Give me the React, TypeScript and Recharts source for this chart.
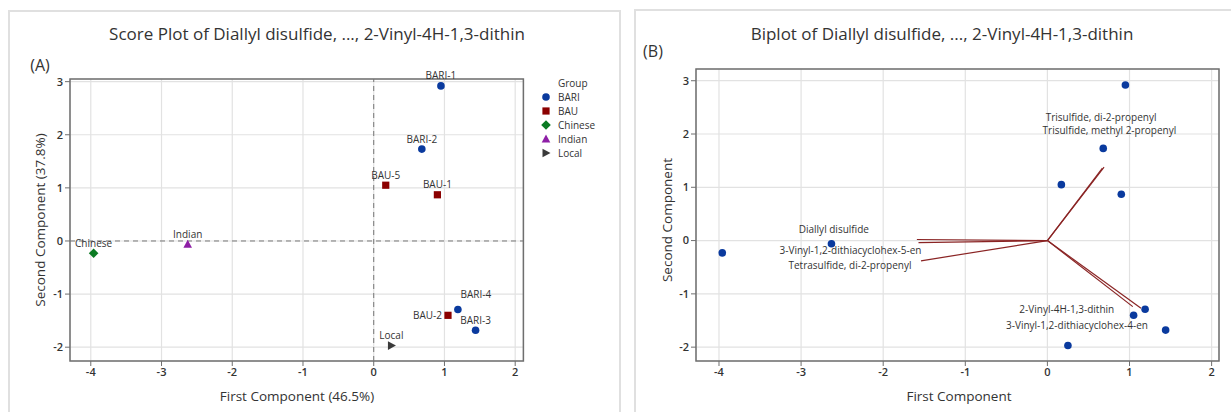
import React from "react";
import {
  ScatterChart,
  Scatter,
  XAxis,
  YAxis,
  CartesianGrid,
  ReferenceLine,
  ReferenceArea,
  Legend,
} from "recharts";

// ─── data ────────────────────────────────────────────────────────────────────
const sampleNames = ["BARI-1", "BARI-2", "BARI-3", "BARI-4", "BAU-1", "BAU-2", "BAU-5", "Chinese", "Indian", "Local"];
const sampleGroups = ["BARI", "BARI", "BARI", "BARI", "BAU", "BAU", "BAU", "Chinese", "Indian", "Local"];
const pc1Scores = [0.95, 0.68, 1.44, 1.19, 0.9, 1.05, 0.17, -3.96, -2.63, 0.25];
const pc2Scores = [2.92, 1.73, -1.68, -1.29, 0.87, -1.4, 1.05, -0.23, -0.06, -1.97];

const groups = ["BARI", "BAU", "Chinese", "Indian", "Local"];

const loadingNames = [
  "Trisulfide, di-2-propenyl",
  "Trisulfide, methyl 2-propenyl",
  "Diallyl disulfide",
  "3-Vinyl-1,2-dithiacyclohex-5-en",
  "Tetrasulfide, di-2-propenyl",
  "2-Vinyl-4H-1,3-dithin",
  "3-Vinyl-1,2-dithiacyclohex-4-en",
];
const loadingPc1 = [0.69, 0.67, -1.59, -1.57, -1.54, 1.04, 1.14];
const loadingPc2 = [1.38, 1.36, 0.02, -0.04, -0.38, -1.24, -1.27];

const xTicks = [-4, -3, -2, -1, 0, 1, 2];
const yTicks = [-2, -1, 0, 1, 2, 3];

// ─── styles ──────────────────────────────────────────────────────────────────
const FONT = '"Open Sans", "Noto Sans", sans-serif';
const TEXT = "#333333";
const GRID = "#e2e2e2";
const FRAME = "#6f6f6f";
const VECTOR = "#8a2424";

const groupStyle: Record<string, { color: string; shape: string }> = {
  BARI: { color: "#0a3a9e", shape: "circle" },
  BAU: { color: "#8b0000", shape: "square" },
  Chinese: { color: "#0a7a22", shape: "diamond" },
  Indian: { color: "#8e1fa6", shape: "triangle" },
  Local: { color: "#3a3a3a", shape: "triangleRight" },
};

// label offset (px) from the point: [dx, dy, anchor]
const scoreLabelPlace: Record<string, [number, number, string]> = {
  "BARI-4": [18, -15, "middle"],
  "BAU-2": [-6, 0, "end"],
};
const loadingLabelPlace: Record<string, [number, number]> = {
  "Trisulfide, di-2-propenyl": [-3, -50],
  "Trisulfide, methyl 2-propenyl": [7, -38],
  "Diallyl disulfide": [-83, -10],
  "3-Vinyl-1,2-dithiacyclohex-5-en": [-68, 8],
  "Tetrasulfide, di-2-propenyl": [-71, 5],
  "2-Vinyl-4H-1,3-dithin": [-66, 3],
  "3-Vinyl-1,2-dithiacyclohex-4-en": [-64, 17],
};

const scores = sampleNames.map((name, i) => ({
  name,
  group: sampleGroups[i],
  x: pc1Scores[i],
  y: pc2Scores[i],
}));
const loadings = loadingNames.map((name, i) => ({ name, x: loadingPc1[i], y: loadingPc2[i] }));

const LEFT_X: [number, number] = [-4.294, 2.116];
const LEFT_Y: [number, number] = [-2.26, 3.05];
const RIGHT_X: [number, number] = [-4.28, 2.09];
const RIGHT_Y: [number, number] = [-2.26, 3.22];

function Marker({ kind, cx, cy, color }: { kind: string; cx: number; cy: number; color: string }) {
  switch (kind) {
    case "square":
      return <rect x={cx - 3.6} y={cy - 3.6} width={7.2} height={7.2} fill={color} />;
    case "diamond":
      return <polygon points={`${cx},${cy - 4.8} ${cx + 4.8},${cy} ${cx},${cy + 4.8} ${cx - 4.8},${cy}`} fill={color} />;
    case "triangle":
      return <polygon points={`${cx},${cy - 4.5} ${cx + 4.3},${cy + 3.5} ${cx - 4.3},${cy + 3.5}`} fill={color} />;
    case "triangleRight":
      return <polygon points={`${cx + 4.5},${cy} ${cx - 3.5},${cy + 4.3} ${cx - 3.5},${cy - 4.3}`} fill={color} />;
    default:
      return <circle cx={cx} cy={cy} r={3.8} fill={color} />;
  }
}

const tickStyle = { fontSize: 11, fill: TEXT, fontWeight: 600, fontFamily: FONT };

function ScorePoint(props: any) {
  const { cx, cy, payload } = props;
  const st = groupStyle[payload.group];
  const [dx, dy, anchor] = scoreLabelPlace[payload.name] ?? [0, -10, "middle"];
  return (
    <g>
      <Marker kind={st.shape} cx={cx} cy={cy} color={st.color} />
      <text
        x={cx + dx}
        y={cy + dy}
        dy="0.35em"
        textAnchor={anchor as any}
        fontSize={10}
        fontFamily={FONT}
        fill={TEXT}
      >
        {payload.name}
      </text>
    </g>
  );
}

function LoadingLabel(props: any) {
  const { cx, cy, payload } = props;
  const [dx, dy] = loadingLabelPlace[payload.name] ?? [0, -10];
  return (
    <text x={cx + dx} y={cy + dy} dy="0.35em" textAnchor="middle" fontSize={10} fontFamily={FONT} fill={TEXT}>
      {payload.name}
    </text>
  );
}

function GroupLegend() {
  return (
    <div style={{ fontFamily: FONT, fontSize: 10, color: TEXT, lineHeight: "14px" }}>
      <div style={{ paddingLeft: 20 }}>Group</div>
      {groups.map((g) => (
        <div key={g} style={{ display: "flex", alignItems: "center" }}>
          <svg width={20} height={14}>
            <Marker kind={groupStyle[g].shape} cx={8} cy={7} color={groupStyle[g].color} />
          </svg>
          <span>{g}</span>
        </div>
      ))}
    </div>
  );
}

function Caption({ x, y, size, children, rotate }: any) {
  return (
    <div
      style={{
        position: "absolute",
        left: x,
        top: y,
        transform: `translate(-50%, -50%)${rotate ? " rotate(-90deg)" : ""}`,
        whiteSpace: "nowrap",
        fontFamily: FONT,
        fontSize: size,
        color: TEXT,
        lineHeight: 1,
      }}
    >
      {children}
    </div>
  );
}

export default function App() {
  return (
    <div
      style={{
        position: "absolute",
        left: 0,
        top: 0,
        width: 1231,
        height: 412,
        background: "#fff",
        overflow: "hidden",
      }}
    >
      {/* panel frames */}
      <div style={{ position: "absolute", left: 8, top: 10, width: 609, height: 420, border: "2px solid #e0e0e0" }} />
      <div style={{ position: "absolute", left: 634, top: 9, width: 620, height: 420, border: "2px solid #e0e0e0" }} />

      {/* (A) score plot */}
      <div style={{ position: "absolute", left: 0, top: 0 }}>
        <ScatterChart width={620} height={412} margin={{ top: 79, right: 96.6, bottom: 21, left: 30 }}>
          <CartesianGrid stroke={GRID} strokeWidth={1.2} />
          <XAxis
            type="number"
            dataKey="x"
            domain={LEFT_X}
            ticks={xTicks}
            height={30}
            axisLine={false}
            tickSize={5}
            tickLine={{ stroke: FRAME }}
            tick={tickStyle}
          />
          <YAxis
            type="number"
            dataKey="y"
            domain={LEFT_Y}
            ticks={yTicks}
            width={40}
            axisLine={false}
            tickSize={5}
            tickMargin={2}
            tickLine={{ stroke: FRAME }}
            tick={tickStyle}
          />
          <ReferenceLine x={0} stroke="#777" strokeDasharray="5 4" />
          <ReferenceLine y={0} stroke="#777" strokeDasharray="5 4" />
          <ReferenceArea x1={LEFT_X[0]} x2={LEFT_X[1]} y1={LEFT_Y[0]} y2={LEFT_Y[1]} fill="none" stroke={FRAME} strokeWidth={1.5} />
          <Legend
            layout="vertical"
            align="center"
            verticalAlign="middle"
            wrapperStyle={{ position: "absolute", left: 538, top: 76, width: 80 }}
            content={() => <GroupLegend />}
          />
          {groups.map((g) => (
            <Scatter
              key={g}
              name={g}
              data={scores.filter((s) => s.group === g)}
              fill={groupStyle[g].color}
              shape={ScorePoint}
              isAnimationActive={false}
            />
          ))}
        </ScatterChart>
      </div>

      {/* (B) biplot */}
      <div style={{ position: "absolute", left: 620, top: 0 }}>
        <ScatterChart width={611} height={412} margin={{ top: 69, right: 12, bottom: 21, left: 36 }}>
          <CartesianGrid stroke={GRID} strokeWidth={1.2} />
          <XAxis
            type="number"
            dataKey="x"
            domain={RIGHT_X}
            ticks={xTicks}
            height={30}
            axisLine={false}
            tickSize={5}
            tickLine={{ stroke: FRAME }}
            tick={tickStyle}
          />
          <YAxis
            type="number"
            dataKey="y"
            domain={RIGHT_Y}
            ticks={yTicks}
            width={40}
            axisLine={false}
            tickSize={5}
            tickMargin={2}
            tickLine={{ stroke: FRAME }}
            tick={tickStyle}
          />
          <ReferenceArea x1={RIGHT_X[0]} x2={RIGHT_X[1]} y1={RIGHT_Y[0]} y2={RIGHT_Y[1]} fill="none" stroke={FRAME} strokeWidth={1.5} />
          {loadings.map((l) => (
            <ReferenceLine
              key={l.name}
              segment={[{ x: 0, y: 0 }, { x: l.x, y: l.y }]}
              stroke={VECTOR}
              strokeWidth={1.2}
              ifOverflow="visible"
            />
          ))}
          <Scatter
            data={scores}
            fill={groupStyle.BARI.color}
            shape={(p: any) => <circle cx={p.cx} cy={p.cy} r={3.8} fill={groupStyle.BARI.color} />}
            isAnimationActive={false}
          />
          <Scatter data={loadings} shape={LoadingLabel} isAnimationActive={false} />
        </ScatterChart>
      </div>

      {/* titles & axis captions */}
      <Caption x={317} y={33} size={17}>Score Plot of Diallyl disulfide, ..., 2-Vinyl-4H-1,3-dithin</Caption>
      <Caption x={942} y={33} size={17}>Biplot of Diallyl disulfide, ..., 2-Vinyl-4H-1,3-dithin</Caption>
      <Caption x={40} y={65} size={16}>(A)</Caption>
      <Caption x={653} y={51} size={16}>(B)</Caption>
      <Caption x={297} y={397} size={13.5}>First Component (46.5%)</Caption>
      <Caption x={959} y={397} size={13.5}>First Component</Caption>
      <Caption x={41} y={220} size={13.5} rotate>Second Component (37.8%)</Caption>
      <Caption x={668} y={220} size={13.5} rotate>Second Component</Caption>
    </div>
  );
}
